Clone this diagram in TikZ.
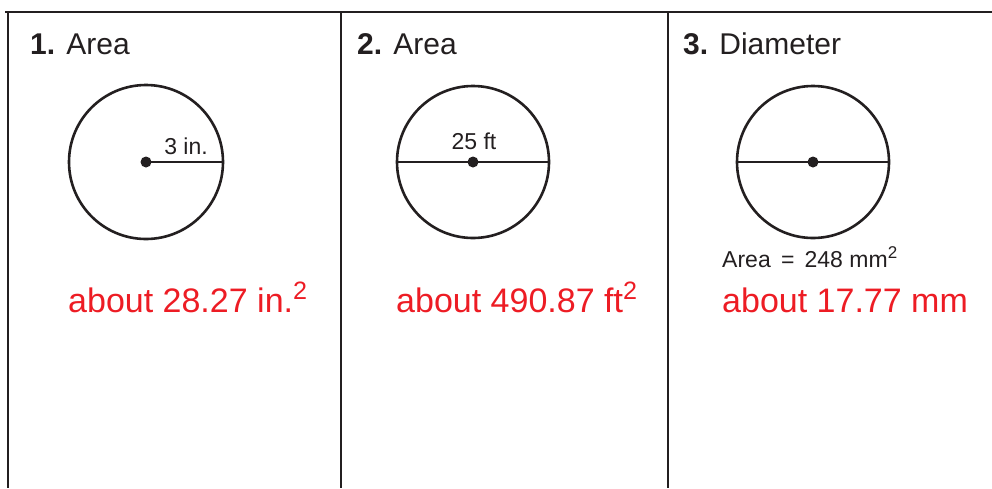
\documentclass[tikz,border=0pt]{standalone}
\usepackage{fontspec}
\setmainfont{Liberation Sans}
\usepackage{tikz}
\usetikzlibrary{positioning}
\definecolor{answerred}{RGB}{237,28,36}
\definecolor{rule}{RGB}{35,31,32}
\newcommand{\sqr}{\raisebox{0.36em}{\scalebox{0.74}{2}}}

\begin{document}
\begin{tikzpicture}
	[x=1pt,y=-1pt,
	 frame/.style={draw=rule, line width=2pt},
	 disc/.style={draw=rule, line width=2.6pt},
	 seg/.style={draw=rule, line width=1.5pt},
	 title/.style={anchor=base west, inner sep=0pt, font=\fontsize{30}{30}\selectfont, text=rule},
	 label/.style={anchor=base, inner sep=0pt, font=\fontsize{23}{23}\selectfont, text=rule},
	 answer/.style={anchor=base west, inner sep=0pt, font=\fontsize{34}{34}\selectfont, text=answerred}]

	\useasboundingbox (0,0) rectangle (992,488);

	% table lines
	\draw[frame] (5,12) -- (992,12);
	\foreach \x in {8,341,668}
	\draw[frame] (\x,12) -- (\x,488);

	% headings
	\node[title] (head1) at (30,54) {\textbf{1.} Area};
	\node[title] (head2) at (357,54) {\textbf{2.} Area};
	\node[title] (head3) at (683,54) {\textbf{3.} Diameter};

	% circle 1, radius
	\draw[seg] (146,162) -- (223,162);
	\draw[disc] (146,162) circle (77);
	\fill[rule] (146,162) circle (5.5);
	\node[label] (rad1) at (186,154) {3 in.};

	% circle 2, diameter
	\draw[seg] (397,162) -- (549,162);
	\draw[disc] (473,162) circle (76);
	\fill[rule] (473,162) circle (5.5);
	\node[label] (diam2) at (474,149) {25 ft};

	% circle 3, diameter
	\draw[seg] (737,162) -- (889,162);
	\draw[disc] (813,162) circle (76);
	\fill[rule] (813,162) circle (5.5);
	\node[label, anchor=base west] (area3) at (722,267) {Area \,=\, 248 mm\sqr};

	% answers
	\node[answer] (ans1) at (68,312) {about 28.27 in.\sqr};
	\node[answer] (ans2) at (396,312) {about 490.87 ft\sqr};
	\node[answer] (ans3) at (722,312) {about 17.77 mm};
\end{tikzpicture}
\end{document}
